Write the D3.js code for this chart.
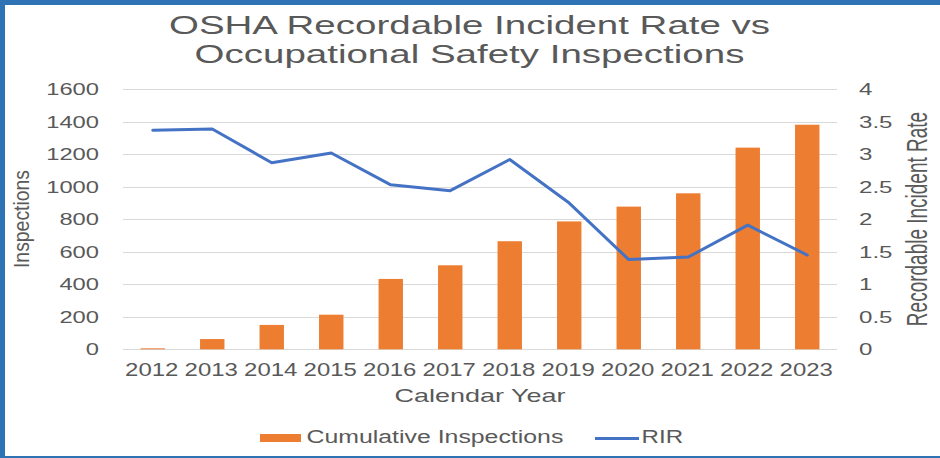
<!DOCTYPE html>
<html>
<head>
<meta charset="utf-8">
<script src="https://cdn.jsdelivr.net/npm/d3@7"></script>
<style>
  body { margin: 0; background: #fff; }
  text { font-family: 'Liberation Sans', Arial, sans-serif; fill: #595959; }
</style>
</head>
<body>
<div class="container"></div>
<script>
const years = ['2012', '2013', '2014', '2015', '2016', '2017', '2018', '2019', '2020', '2021', '2022', '2023'];
const inspections = [6, 63, 150, 213, 433, 517, 665, 787, 878, 960, 1241, 1382];
const rir = [3.37, 3.39, 2.87, 3.02, 2.53, 2.44, 2.92, 2.25, 1.38, 1.42, 1.91, 1.45];
const leftTicks = [0, 200, 400, 600, 800, 1000, 1200, 1400, 1600];
const rightTicks = [0, 0.5, 1, 1.5, 2, 2.5, 3, 3.5, 4];
const titleLines = ['OSHA Recordable Incident Rate vs', 'Occupational Safety Inspections'];

const width = 940;
const height = 458;
const blue = '#4472C4';
const orange = '#ED7D31';

const svg = d3
  .select('.container')
  .append('svg')
  .attr('width', width)
  .attr('height', height);

svg.append('rect').attr('width', width).attr('height', height).attr('fill', '#fff');

// frame (blue edge of the screenshot)
svg.append('rect').attr('x', 0).attr('y', 0).attr('width', width).attr('height', 5).attr('fill', '#2E74B5');
svg.append('rect').attr('x', 0).attr('y', 0).attr('width', 5).attr('height', height).attr('fill', '#2E74B5');
svg.append('rect').attr('x', 0).attr('y', 456).attr('width', width).attr('height', 2).attr('fill', '#2E74B5');

// text in the picture is stretched sideways, so every label gets an x scale
function label(txt, x, y, size, sx, anchor, rot) {
  const g = svg
    .append('g')
    .attr('transform', `translate(${x},${y}) scale(${sx},1)` + (rot ? ` rotate(${rot})` : ''));
  return g
    .append('text')
    .attr('text-anchor', anchor)
    .attr('font-size', size)
    .text(txt);
}

const x = d3
  .scaleBand()
  .domain(years)
  .range([123, 837])
  .paddingInner(0.59)
  .paddingOuter(0.295);

const yLeft = d3.scaleLinear().domain([0, 1600]).range([349.3, 89.3]);
const yRight = d3.scaleLinear().domain([0, 4]).range([349.3, 89.3]);

// grid
svg
  .append('g')
  .attr('class', 'grid')
  .selectAll('line')
  .data(leftTicks)
  .join('line')
  .attr('x1', 123)
  .attr('x2', 837)
  .attr('y1', (d) => Math.round(yLeft(d)) + 0.5)
  .attr('y2', (d) => Math.round(yLeft(d)) + 0.5)
  .attr('stroke', '#d9d9d9')
  .attr('stroke-width', 1);

// bars
svg
  .append('g')
  .attr('class', 'bars')
  .selectAll('rect')
  .data(years)
  .join('rect')
  .attr('x', (d) => x(d))
  .attr('width', x.bandwidth())
  .attr('y', (d, i) => yLeft(inspections[i]))
  .attr('height', (d, i) => yLeft(0) - yLeft(inspections[i]))
  .attr('fill', orange);

// RIR line
const line = d3
  .line()
  .x((d, i) => x(years[i]) + x.bandwidth() / 2)
  .y((d) => yRight(d));

svg
  .append('path')
  .datum(rir)
  .attr('fill', 'none')
  .attr('stroke', blue)
  .attr('stroke-width', 3)
  .attr('stroke-linejoin', 'round')
  .attr('stroke-linecap', 'round')
  .attr('d', line);

// tick labels
leftTicks.forEach((t) => {
  label(t, 99, yLeft(t), 16.5, 1.44, 'end').attr('dy', '0.36em');
});
rightTicks.forEach((t) => {
  label(t, 859, yRight(t), 16.5, 1.46, 'start').attr('dy', '0.36em');
});
years.forEach((yr) => {
  label(yr, x(yr) + x.bandwidth() / 2 - 1, 376, 17.5, 1.37, 'middle');
});

// titles
label(titleLines[0], 469.5, 33.5, 25.5, 1.51, 'middle');
label(titleLines[1], 469.5, 63, 25.5, 1.51, 'middle');
label('Calendar Year', 480, 402, 18, 1.5, 'middle');
label('Inspections', 29, 219, 19.4, 1.15, 'middle', -90);
label('Recordable Incident Rate', 926.5, 219, 19, 1.55, 'middle', -90);

// legend
const legend = svg.append('g').attr('class', 'legend');
legend
  .append('rect')
  .attr('x', 260)
  .attr('y', 434)
  .attr('width', 41)
  .attr('height', 8)
  .attr('fill', orange);
legend
  .append('line')
  .attr('x1', 595)
  .attr('x2', 639)
  .attr('y1', 438.5)
  .attr('y2', 438.5)
  .attr('stroke', blue)
  .attr('stroke-width', 3);
label('Cumulative Inspections', 306.5, 443, 17.5, 1.42, 'start');
label('RIR', 641.5, 443, 17.5, 1.38, 'start');
</script>
</body>
</html>
